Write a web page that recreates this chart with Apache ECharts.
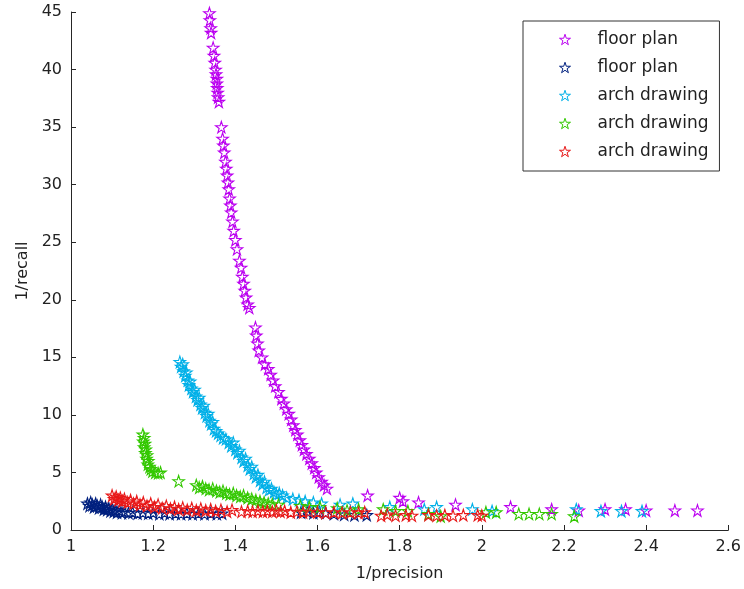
<!DOCTYPE html>
<html>
<head>
<meta charset="utf-8">
<script src="https://cdn.jsdelivr.net/npm/echarts@6/dist/echarts.min.js"></script>
<style>html,body{margin:0;padding:0;background:#fff}#c{width:744px;height:589px}</style>
</head>
<body>
<div id="c"></div>
<script>
// ---- data ----
const seriesNames = ['fp1', 'fp2', 'ad1', 'ad2', 'ad3'];
const legendLabels = ['floor plan', 'floor plan', 'arch drawing', 'arch drawing', 'arch drawing'];
const seriesColors = ['#bb00f0', '#00207f', '#00b0e8', '#33c800', '#e81818'];

const purplePts = [
  [1.337,44.9],[1.338,44.3],[1.340,43.6],[1.341,43.2],[1.346,41.9],[1.348,41.2],[1.350,40.6],[1.352,40.0],
  [1.353,39.6],[1.355,39.2],[1.355,38.8],[1.356,38.4],[1.357,38.0],[1.358,37.6],[1.360,37.2],[1.366,35.0],
  [1.369,34.0],[1.371,33.4],[1.373,32.8],[1.376,32.0],[1.378,31.4],[1.380,30.8],[1.382,30.2],[1.384,29.6],
  [1.386,28.8],[1.388,28.2],[1.390,27.6],[1.393,26.8],[1.396,26.0],[1.400,25.2],[1.404,24.4],[1.410,23.4],
  [1.414,22.8],[1.417,22.0],[1.420,21.4],[1.423,20.8],[1.426,20.2],[1.430,19.6],[1.434,19.3],[1.449,17.6],
  [1.451,16.9],[1.454,16.2],[1.457,15.6],[1.465,15.0],[1.472,14.4],[1.480,14.0],[1.486,13.5],[1.492,13.0],
  [1.497,12.5],[1.505,12.0],[1.512,11.4],[1.518,11.0],[1.524,10.5],[1.530,10.1],[1.536,9.6],[1.541,9.1],
  [1.546,8.7],[1.551,8.3],[1.557,7.8],[1.562,7.4],[1.567,7.0],[1.573,6.6],[1.580,6.2],[1.586,5.8],
  [1.592,5.4],[1.597,5.0],[1.603,4.6],[1.610,4.2],[1.616,3.9],[1.623,3.6],
  [1.722,3.0],[1.800,2.8],[1.808,2.5],[1.846,2.4],[1.936,2.2],[2.070,2.0],[2.170,1.8],[2.236,1.7],
  [2.300,1.8],[2.350,1.8],[2.400,1.7],[2.470,1.7],[2.525,1.7]
];
const navyPts = [
  [1.040,2.3],[1.045,2.1],[1.048,2.4],[1.052,2.2],[1.056,2.0],[1.060,2.3],[1.064,2.1],[1.068,1.9],
  [1.072,2.2],[1.076,2.0],[1.080,1.8],[1.084,2.0],[1.088,1.75],[1.092,1.9],[1.096,1.65],[1.100,1.85],
  [1.104,1.6],[1.108,1.75],[1.112,1.55],[1.118,1.7],[1.124,1.5],[1.130,1.6],[1.140,1.5],[1.150,1.55],
  [1.162,1.45],[1.175,1.5],[1.188,1.45],[1.200,1.5],[1.215,1.4],[1.228,1.5],[1.240,1.4],[1.255,1.45],
  [1.268,1.4],[1.282,1.45],[1.296,1.4],[1.310,1.45],[1.325,1.4],[1.340,1.45],[1.355,1.4],[1.368,1.45],
  [1.560,1.55],[1.575,1.6],[1.590,1.5],[1.605,1.55],[1.620,1.5],[1.640,1.4],[1.665,1.35],[1.690,1.3],[1.720,1.3]
];
const cyanPts = [
  [1.265,14.6],[1.268,14.2],[1.272,14.4],[1.274,13.8],[1.278,13.4],[1.281,13.7],[1.284,13.0],[1.287,12.6],
  [1.290,12.9],[1.293,12.3],[1.297,12.0],[1.301,12.2],[1.304,11.6],[1.308,11.3],[1.312,11.5],[1.315,10.9],
  [1.319,10.6],[1.323,10.8],[1.326,10.2],[1.330,9.9],[1.334,10.1],[1.337,9.5],[1.341,9.2],[1.345,9.4],
  [1.348,8.8],[1.353,8.6],[1.358,8.4],[1.364,8.2],[1.370,8.0],[1.377,7.9],[1.384,7.6],[1.390,7.3],
  [1.395,7.6],[1.400,7.0],[1.405,6.7],[1.410,6.9],[1.415,6.3],[1.420,6.0],[1.425,6.2],[1.430,5.6],
  [1.435,5.3],[1.440,5.5],[1.445,4.9],[1.450,4.6],[1.455,4.8],[1.460,4.3],[1.466,4.0],[1.471,4.2],
  [1.476,3.7],[1.482,3.5],[1.488,3.6],[1.494,3.3],[1.500,3.1],[1.507,3.2],[1.515,3.0],[1.525,2.8],
  [1.540,2.7],[1.555,2.6],[1.570,2.5],[1.590,2.4],[1.610,2.3],
  [1.655,2.2],[1.686,2.3],[1.776,2.0],[1.860,1.8],[1.890,2.0],[1.977,1.8],[2.025,1.65],[2.230,1.8],
  [2.290,1.65],[2.340,1.65],[2.390,1.65]
];
const greenPts = [
  [1.175,8.3],[1.178,8.0],[1.176,7.7],[1.180,7.5],[1.178,7.2],[1.182,7.0],[1.181,6.7],[1.185,6.5],
  [1.184,6.2],[1.188,6.0],[1.187,5.7],[1.191,5.5],[1.194,5.3],[1.198,5.1],[1.205,5.0],[1.212,4.95],[1.218,5.0],
  [1.262,4.25],
  [1.305,3.9],[1.312,3.7],[1.320,3.8],[1.328,3.6],[1.336,3.5],[1.345,3.6],[1.354,3.4],[1.362,3.3],
  [1.370,3.4],[1.378,3.2],[1.386,3.1],[1.395,3.2],[1.403,3.0],[1.412,2.9],[1.420,3.0],[1.430,2.8],
  [1.440,2.7],[1.450,2.6],[1.460,2.5],[1.470,2.4],[1.480,2.3],[1.490,2.25],[1.505,2.2],
  [1.558,2.1],[1.580,2.0],[1.606,2.0],[1.648,1.9],[1.672,1.7],[1.700,1.8],[1.760,1.8],[1.790,1.65],
  [1.820,1.65],[1.870,1.4],[1.900,1.2],[2.010,1.55],[2.035,1.55],[2.090,1.4],[2.115,1.4],[2.140,1.4],
  [2.170,1.4],[2.225,1.2]
];
const redPts = [
  [1.100,3.0],[1.105,2.7],[1.110,2.9],[1.115,2.6],[1.120,2.8],[1.125,2.5],[1.130,2.7],[1.138,2.4],
  [1.145,2.6],[1.152,2.3],[1.160,2.5],[1.168,2.2],[1.176,2.4],[1.185,2.1],[1.194,2.3],[1.203,2.0],
  [1.212,2.2],[1.222,1.9],[1.232,2.1],[1.242,1.85],[1.252,2.0],[1.262,1.8],[1.272,1.95],[1.283,1.75],
  [1.294,1.9],[1.305,1.7],[1.316,1.85],[1.328,1.7],[1.340,1.8],[1.352,1.65],[1.365,1.75],[1.380,1.6],[1.392,1.75],
  [1.415,1.6],[1.430,1.65],[1.442,1.6],[1.455,1.65],[1.467,1.6],[1.478,1.65],[1.490,1.6],[1.500,1.7],
  [1.510,1.6],[1.520,1.65],[1.535,1.55],[1.550,1.6],[1.565,1.55],[1.580,1.6],[1.600,1.55],[1.620,1.5],
  [1.640,1.55],[1.660,1.5],[1.680,1.55],[1.700,1.5],[1.715,1.55],
  [1.755,1.25],[1.770,1.35],[1.790,1.25],[1.815,1.3],[1.830,1.25],[1.870,1.3],[1.890,1.25],[1.910,1.3],
  [1.930,1.25],[1.955,1.3],[1.990,1.3],[2.000,1.25]
];
const allPts = [purplePts, navyPts, cyanPts, greenPts, redPts];

const xMin = 1, xMax = 2.6, xStep = 0.2;
const yMin = 0, yMax = 45, yStep = 5;

// ---- chart ----
const STAR = 'path://M50,0L61.2,34.5L97.6,34.5L68.2,55.9L79.4,90.5L50,69.1L20.6,90.5L31.8,55.9L2.4,34.5L38.8,34.5Z';
const FONT = 'DejaVu Sans';
const AX = '#262626';

const chart = echarts.init(document.getElementById('c'), null, {renderer: 'canvas'});
chart.setOption({
  animation: false,
  backgroundColor: '#fff',
  grid: {left: 71, right: 15, top: 12, bottom: 59},
  xAxis: {
    type: 'value', min: xMin, max: xMax, interval: xStep,
    name: '1/precision', nameLocation: 'middle', nameGap: 36,
    nameTextStyle: {fontFamily: FONT, fontSize: 16, color: '#222'},
    axisLine: {show: true, onZero: false, lineStyle: {color: AX, width: 1}},
    axisTick: {show: true, inside: true, length: 5, lineStyle: {color: AX}},
    axisLabel: {fontFamily: FONT, fontSize: 16, color: '#222', margin: 9},
    splitLine: {show: false}
  },
  yAxis: {
    type: 'value', min: yMin, max: yMax, interval: yStep,
    name: '1/recall', nameLocation: 'middle', nameGap: 40,
    nameTextStyle: {fontFamily: FONT, fontSize: 16, color: '#222'},
    axisLine: {show: true, onZero: false, lineStyle: {color: AX, width: 1}},
    axisTick: {show: true, inside: true, length: 5, lineStyle: {color: AX}},
    axisLabel: {fontFamily: FONT, fontSize: 16, color: '#222', margin: 9},
    splitLine: {show: false}
  },
  legend: {
    orient: 'vertical', left: 523, top: 21,
    backgroundColor: '#fff', borderColor: '#333', borderWidth: 1,
    padding: [10, 11, 11, 36],
    itemWidth: 11, itemHeight: 11, itemGap: 11,
    symbolKeepAspect: true,
    textStyle: {fontFamily: FONT, fontSize: 17, color: '#222', lineHeight: 14, padding: [0, 0, 0, 22]},
    formatter: function (n) { return legendLabels[seriesNames.indexOf(n)]; },
    data: seriesNames.map((n, i) => ({
      name: n, icon: STAR,
      itemStyle: {color: 'transparent', borderColor: seriesColors[i], borderWidth: 1}
    }))
  },
  series: seriesNames.map((n, i) => ({
    name: n, type: 'scatter', symbol: STAR, symbolSize: 11.5,
    itemStyle: {color: 'transparent', borderColor: seriesColors[i], borderWidth: 1.1, opacity: 1},
    emphasis: {disabled: true},
    data: allPts[i]
  }))
});
</script>
</body>
</html>
